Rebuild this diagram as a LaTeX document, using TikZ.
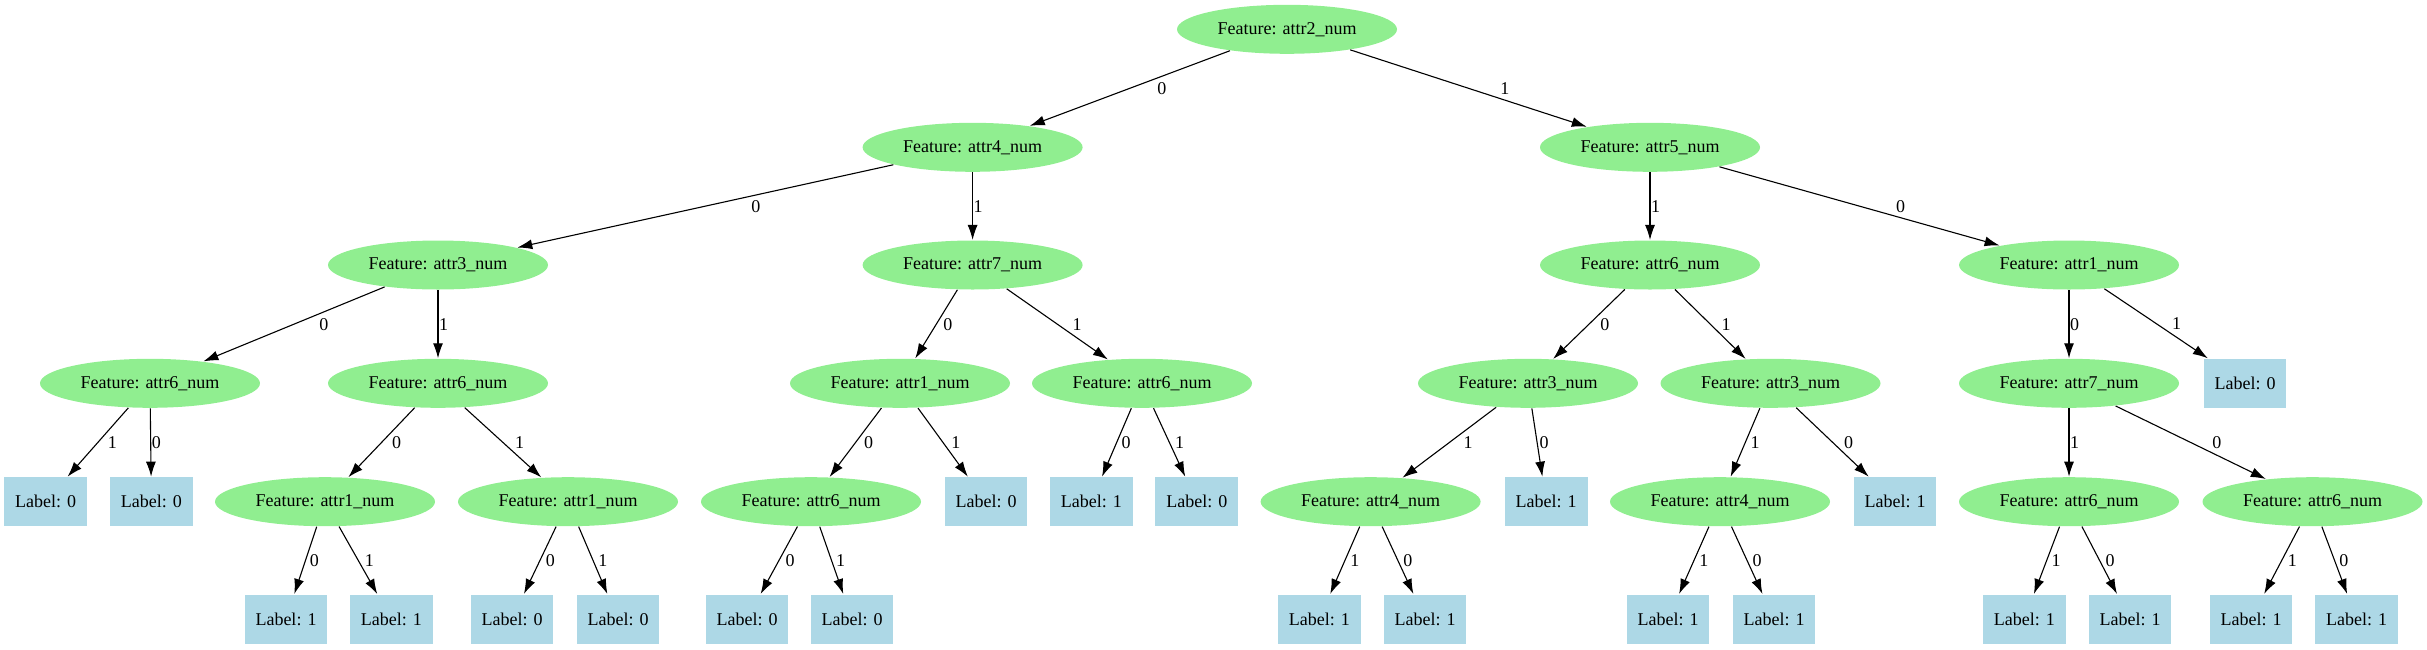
\documentclass[tikz,border=0pt]{standalone}
\usepackage{fontspec}
\setmainfont{Liberation Serif}
\usetikzlibrary{shapes.geometric,arrows.meta}
\definecolor{featgreen}{HTML}{90EE90}
\definecolor{leafblue}{HTML}{ADD8E6}
\tikzset{>={Latex[length=15pt,width=10pt]}}
\tikzset{
  feat/.style={ellipse, fill=featgreen, minimum width=220pt, minimum height=49pt, inner sep=0pt},
  leaf/.style={rectangle, fill=leafblue, minimum width=82.7pt, minimum height=49pt, inner sep=0pt},
  lbl/.style={midway, anchor=west, inner sep=0.5pt}
}

\begin{document}
\begin{tikzpicture}[x=1pt, y=-1pt, line width=1.1pt, font=\fontsize{18}{20}\selectfont]
            \useasboundingbox (0,0) rectangle (2427,649);
            % level 0 and 1
            \node[feat] (t) at (1287,29.3) {Feature: attr2\_num};
            \node[feat] (t0) at (972.6,147.3) {Feature: attr4\_num};
            \node[feat] (t1) at (1650,147.3) {Feature: attr5\_num};
            % level 2
            \node[feat] (t00) at (438,265) {Feature: attr3\_num};
            \node[feat] (t01) at (972.6,265) {Feature: attr7\_num};
            \node[feat] (t11) at (1650,265) {Feature: attr6\_num};
            \node[feat] (t10) at (2069,265) {Feature: attr1\_num};
            % level 3
            \node[feat] (t000) at (150,383.3) {Feature: attr6\_num};
            \node[feat] (t001) at (438,383.3) {Feature: attr6\_num};
            \node[feat] (t010) at (900,383.3) {Feature: attr1\_num};
            \node[feat] (t011) at (1142,383.3) {Feature: attr6\_num};
            \node[feat] (t110) at (1528,383.3) {Feature: attr3\_num};
            \node[feat] (t111) at (1770.5,383.3) {Feature: attr3\_num};
            \node[feat] (t100) at (2069,383.3) {Feature: attr7\_num};
            \node[leaf] (t101) at (2245,383.3) {Label: 0};
            % level 4
            \node[leaf] (t0001) at (45.6,501.7) {Label: 0};
            \node[leaf] (t0000) at (151.4,501.7) {Label: 0};
            \node[feat] (t0010) at (325,501.7) {Feature: attr1\_num};
            \node[feat] (t0011) at (568,501.7) {Feature: attr1\_num};
            \node[feat] (t0100) at (811,501.7) {Feature: attr6\_num};
            \node[leaf] (t0101) at (986,501.7) {Label: 0};
            \node[leaf] (t0110) at (1091.3,501.7) {Label: 1};
            \node[leaf] (t0111) at (1196.8,501.7) {Label: 0};
            \node[feat] (t1101) at (1370.6,501.7) {Feature: attr4\_num};
            \node[leaf] (t1100) at (1546.2,501.7) {Label: 1};
            \node[feat] (t1111) at (1720,501.7) {Feature: attr4\_num};
            \node[leaf] (t1110) at (1895,501.7) {Label: 1};
            \node[feat] (t1001) at (2069,501.7) {Feature: attr6\_num};
            \node[feat] (t1000) at (2312.5,501.7) {Feature: attr6\_num};
            % level 5
            \node[leaf] (t00100) at (286,619) {Label: 1};
            \node[leaf] (t00101) at (391.4,619) {Label: 1};
            \node[leaf] (t00110) at (512,619) {Label: 0};
            \node[leaf] (t00111) at (618,619) {Label: 0};
            \node[leaf] (t01000) at (747,619) {Label: 0};
            \node[leaf] (t01001) at (852,619) {Label: 0};
            \node[leaf] (t11011) at (1319.3,619) {Label: 1};
            \node[leaf] (t11010) at (1425,619) {Label: 1};
            \node[leaf] (t11111) at (1668,619) {Label: 1};
            \node[leaf] (t11110) at (1774,619) {Label: 1};
            \node[leaf] (t10011) at (2024.4,619) {Label: 1};
            \node[leaf] (t10010) at (2130,619) {Label: 1};
            \node[leaf] (t10001) at (2251,619) {Label: 1};
            \node[leaf] (t10000) at (2356.5,619) {Label: 1};
            % edges
            \draw[->] (t) -- node[lbl, xshift=26.6pt] {0} (t0);
            \draw[->] (t) -- node[lbl, xshift=30.8pt] {1} (t1);
            \draw[->] (t0) -- node[lbl, xshift=45pt] {0} (t00);
            \draw[->] (t0) -- node[lbl] {1} (t01);
            \draw[->] (t1) -- node[lbl] {1} (t11);
            \draw[->] (t1) -- node[lbl, xshift=35.5pt] {0} (t10);
            \draw[->] (t00) -- node[lbl, xshift=24.3pt] {0} (t000);
            \draw[->] (t00) -- node[lbl] {1} (t001);
            \draw[->] (t01) -- node[lbl, xshift=6.1pt] {0} (t010);
            \draw[->] (t01) -- node[lbl, xshift=14.3pt] {1} (t011);
            \draw[->] (t11) -- node[lbl, xshift=10.3pt] {0} (t110);
            \draw[->] (t11) -- node[lbl, xshift=10.2pt] {1} (t111);
            \draw[->] (t10) -- node[lbl] {0} (t100);
            \draw[->] (t10) -- node[lbl, xshift=14.9pt] {1} (t101);
            \draw[->] (t000) -- node[lbl, xshift=8.8pt] {1} (t0001);
            \draw[->] (t000) -- node[lbl] {0} (t0000);
            \draw[->] (t001) -- node[lbl, xshift=9.5pt] {0} (t0010);
            \draw[->] (t001) -- node[lbl, xshift=11pt] {1} (t0011);
            \draw[->] (t010) -- node[lbl, xshift=7.5pt] {0} (t0100);
            \draw[->] (t010) -- node[lbl, xshift=7.3pt] {1} (t0101);
            \draw[->] (t011) -- node[lbl, xshift=4pt] {0} (t0110);
            \draw[->] (t011) -- node[lbl, xshift=4.6pt] {1} (t0111);
            \draw[->] (t110) -- node[lbl, xshift=13.3pt] {1} (t1101);
            \draw[->] (t110) -- node[lbl, xshift=1.5pt] {0} (t1100);
            \draw[->] (t111) -- node[lbl, xshift=4.3pt] {1} (t1111);
            \draw[->] (t111) -- node[lbl, xshift=10.6pt] {0} (t1110);
            \draw[->] (t100) -- node[lbl] {1} (t1001);
            \draw[->] (t100) -- node[lbl, xshift=20.5pt] {0} (t1000);
            \draw[->] (t0010) -- node[lbl, xshift=3.4pt] {0} (t00100);
            \draw[->] (t0010) -- node[lbl, xshift=5.6pt] {1} (t00101);
            \draw[->] (t0011) -- node[lbl, xshift=4.8pt] {0} (t00110);
            \draw[->] (t0011) -- node[lbl, xshift=4.3pt] {1} (t00111);
            \draw[->] (t0100) -- node[lbl, xshift=5.5pt] {0} (t01000);
            \draw[->] (t0100) -- node[lbl, xshift=3.5pt] {1} (t01001);
            \draw[->] (t1101) -- node[lbl, xshift=4.4pt] {1} (t11011);
            \draw[->] (t1101) -- node[lbl, xshift=4.6pt] {0} (t11010);
            \draw[->] (t1111) -- node[lbl, xshift=4.4pt] {1} (t11111);
            \draw[->] (t1111) -- node[lbl, xshift=4.6pt] {0} (t11110);
            \draw[->] (t1001) -- node[lbl, xshift=3.8pt] {1} (t10011);
            \draw[->] (t1001) -- node[lbl, xshift=5.2pt] {0} (t10010);
            \draw[->] (t1000) -- node[lbl, xshift=5.1pt] {1} (t10001);
            \draw[->] (t1000) -- node[lbl, xshift=3.8pt] {0} (t10000);
        \end{tikzpicture}
\end{document}
